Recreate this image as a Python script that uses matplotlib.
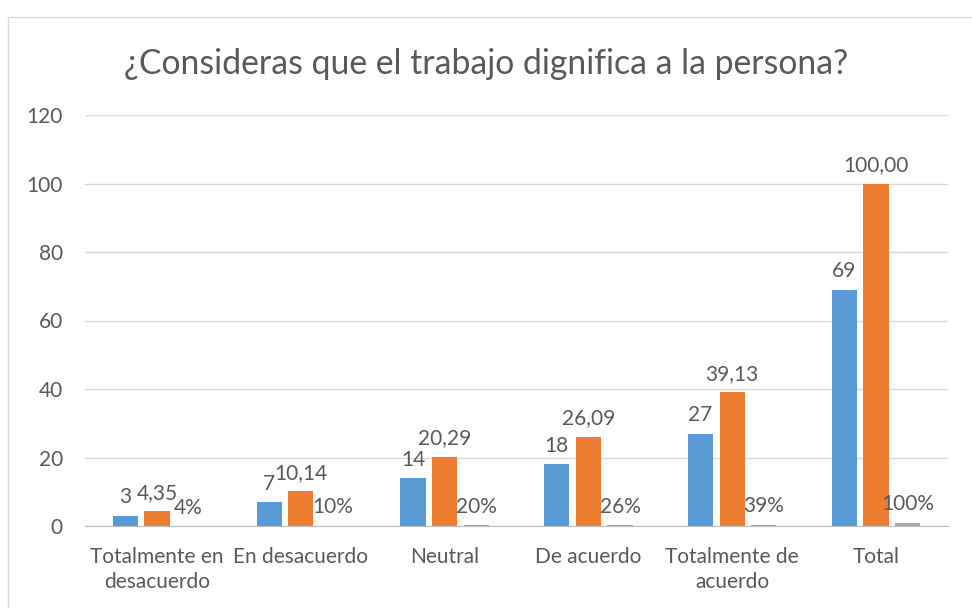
import matplotlib.pyplot as plt
import numpy as np
from matplotlib.patches import Rectangle

plt.rcParams['font.family'] = ['Lato', 'DejaVu Sans']

categorias = ["Totalmente en\ndesacuerdo", "En desacuerdo", "Neutral", "De acuerdo",
              "Totalmente de\nacuerdo", "Total"]
frecuencia = [3, 7, 14, 18, 27, 69]
porcentaje = [4.35, 10.14, 20.29, 26.09, 39.13, 100.00]
proporcion = [0.0435, 0.1014, 0.2029, 0.2609, 0.3913, 1.0]

azul = '#5b9bd5'
naranja = '#ed7d31'
gris = '#a5a5a5'
texto = '#595959'

fig = plt.figure(figsize=(9.72, 6.08), dpi=100)
# chart border (cut off at right and bottom)
fig.patches.append(Rectangle((8/972, -0.1), 1.1, 1 - 17/608 + 0.1, transform=fig.transFigure,
                             fill=False, edgecolor='#d9d9d9', lw=1))

ax = fig.add_axes([85/972, (608-526)/608, (948-85)/972, (526-115)/608])
x = np.arange(len(categorias))
w = 0.22
b1 = ax.bar(x - w, frecuencia, color=azul, width=0.175)
b2 = ax.bar(x, porcentaje, color=naranja, width=0.175)
b3 = ax.bar(x + w, proporcion, color=gris, width=0.175)

def etiquetas(bars, textos):
    for r, t in zip(bars, textos):
        ax.annotate(t, (r.get_x() + r.get_width() / 2, r.get_height()),
                    xytext=(0, 6), textcoords='offset points', ha='center', va='bottom',
                    fontsize=15, color=texto)

etiquetas(b1, [str(v) for v in frecuencia])
etiquetas(b2, [f"{v:.2f}".replace('.', ',') for v in porcentaje])
etiquetas(b3, [f"{v*100:.0f}%" for v in proporcion])

ax.set_ylim(0, 120)
ax.set_xlim(-0.5, len(categorias) - 0.5)
ax.set_yticks(range(0, 121, 20))
ax.set_xticks(x)
ax.set_xticklabels(categorias, linespacing=1.3)
ax.tick_params(length=0, labelsize=15, colors=texto)
ax.tick_params(axis='x', pad=15)
ax.tick_params(axis='y', pad=16)
ax.grid(axis='y', color='#d9d9d9', lw=1)
ax.set_axisbelow(True)
for s in ['top', 'right', 'left']:
    ax.spines[s].set_visible(False)
ax.spines['bottom'].set_color('#bfbfbf')

fig.text(0.5, 1 - 64/608, "¿Consideras que el trabajo dignifica a la persona?",
         ha='center', va='center', fontsize=24.3, color=texto)

fig.savefig('out.png', dpi=100)
